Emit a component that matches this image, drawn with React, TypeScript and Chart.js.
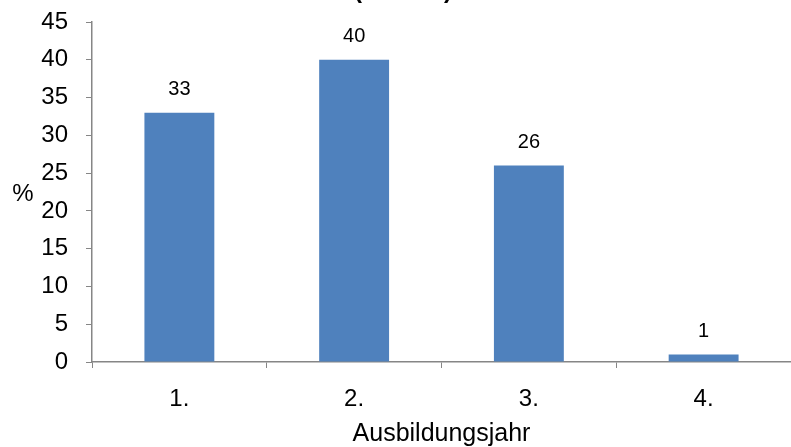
import React, { useEffect, useRef } from "react";
import { Chart, registerables } from "chart.js";

Chart.register(...registerables);

const categories = ["1.", "2.", "3.", "4."];
const shares = [33, 40, 26, 1];
const yTicks = [0, 5, 10, 15, 20, 25, 30, 35, 40, 45];
const titleText = "(n = 366)";
const xTitle = "Ausbildungsjahr";
const yTitle = "%";

const FONT = "'Liberation Sans', Arial, sans-serif";

const extras = {
  id: "extras",
  afterDatasetsDraw(chart: any) {
    const ctx = chart.ctx;
    const area = chart.chartArea;
    ctx.save();
    ctx.fillStyle = "#000";
    // value labels above bars
    ctx.font = `20px ${FONT}`;
    ctx.textAlign = "center";
    ctx.textBaseline = "middle";
    const meta = chart.getDatasetMeta(0);
    meta.data.forEach((bar: any, i: number) => {
      ctx.fillText(String(shares[i]), bar.x, bar.y - 23);
    });
    // title, clipped by the top edge
    ctx.font = `bold 24px ${FONT}`;
    ctx.textBaseline = "alphabetic";
    ctx.fillText(titleText, 403, -2);
    // horizontal y-axis title
    ctx.font = `24px ${FONT}`;
    ctx.textBaseline = "middle";
    ctx.fillText(yTitle, 23, (area.top + area.bottom) / 2 + 2);
    ctx.restore();
  },
};

export default function App() {
  const ref = useRef<HTMLCanvasElement | null>(null);
  useEffect(() => {
    if (!ref.current) return;
    const chart = new Chart(ref.current, {
      type: "bar",
      data: {
        labels: categories,
        datasets: [
          {
            data: shares,
            backgroundColor: "#4F81BD",
            barPercentage: 0.4,
            categoryPercentage: 1,
          },
        ],
      },
      plugins: [extras],
      options: {
        animation: false,
        responsive: false,
        layout: { padding: { left: 0, top: 22, right: 0, bottom: 0 } },
        plugins: {
          legend: { display: false },
          title: { display: false },
          tooltip: { enabled: false },
        },
        scales: {
          x: {
            offset: true,
            afterFit: (axis: any) => {
              axis.height = 85;
              axis.paddingLeft = 0;
              axis.paddingRight = 0;
            },
            grid: {
              offset: true,
              drawOnChartArea: false,
              drawTicks: true,
              tickLength: 6,
              color: "#868686",
            },
            border: { color: "#868686", width: 1.5 },
            ticks: { color: "#000", font: { family: FONT, size: 24 }, padding: 17 },
            title: {
              display: true,
              text: xTitle,
              color: "#000",
              font: { family: FONT, size: 25 },
              padding: { top: 0, bottom: -2 },
            },
          },
          y: {
            min: 0,
            max: 45,
            afterBuildTicks: (axis: any) => {
              axis.ticks = yTicks.map((v) => ({ value: v }));
            },
            afterFit: (axis: any) => {
              axis.width = 92;
              axis.paddingTop = 0;
              axis.paddingBottom = 0;
            },
            grid: {
              drawOnChartArea: false,
              drawTicks: true,
              tickLength: 6,
              color: "#868686",
            },
            border: { color: "#868686", width: 1.5 },
            ticks: { color: "#000", font: { family: FONT, size: 24 }, padding: 18 },
          },
        },
      },
    });
    return () => chart.destroy();
  }, []);
  return (
    <div style={{ position: "fixed", left: 0, top: 0, width: 791, height: 447, background: "#fff" }}>
      <canvas ref={ref} width={791} height={447} style={{ display: "block" }} />
    </div>
  );
}
